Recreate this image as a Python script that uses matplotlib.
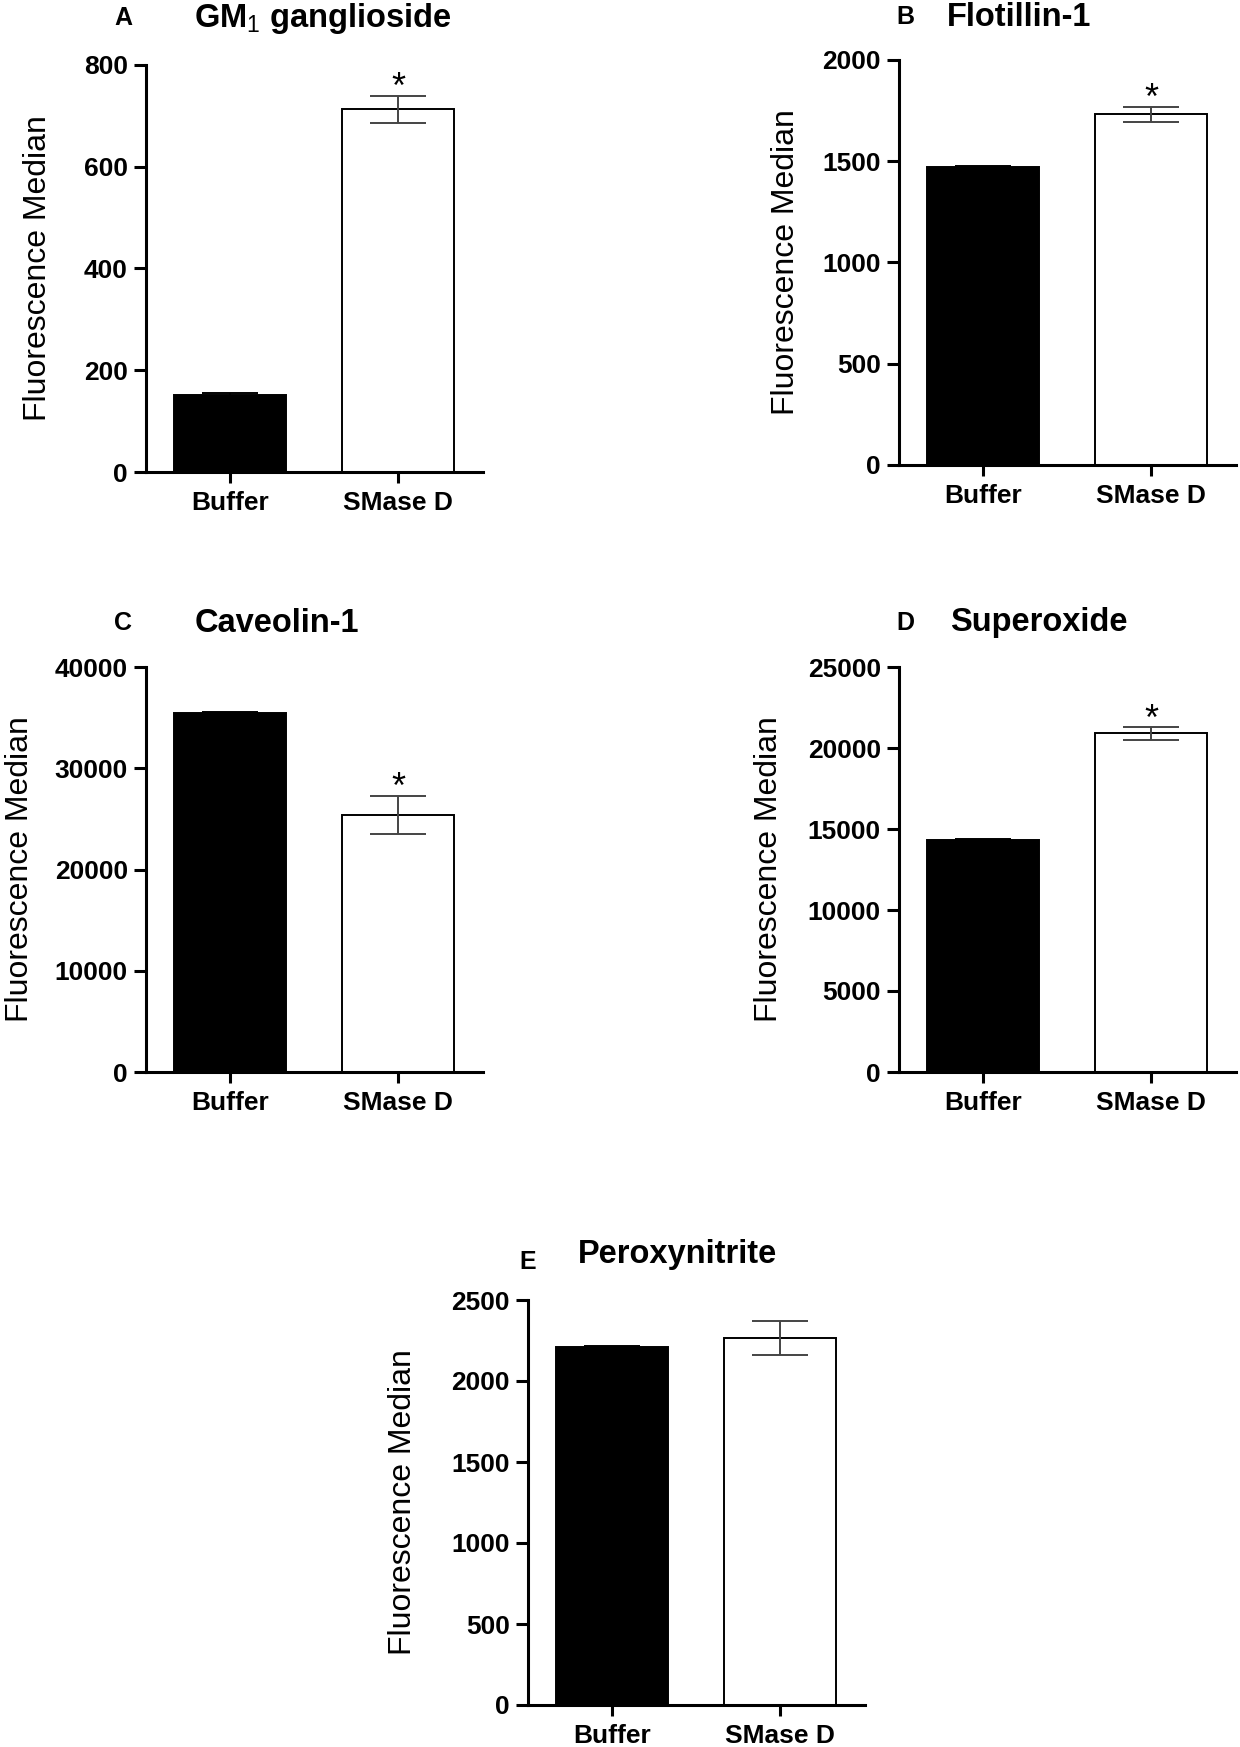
import matplotlib
matplotlib.use("Agg")
import matplotlib.pyplot as plt

plt.rcParams['font.family'] = ['Liberation Sans', 'DejaVu Sans']
plt.rcParams['mathtext.fontset'] = 'custom'
plt.rcParams['mathtext.rm'] = 'Liberation Sans'

# data
letters = ['A', 'B', 'C', 'D', 'E']
titles = ['GM$_{\\mathrm{1}}$ ganglioside', 'Flotillin-1', 'Caveolin-1', 'Superoxide', 'Peroxynitrite']
groups = ['Buffer', 'SMase D']
buffer_mean = [152, 1471, 35450, 14300, 2210]
buffer_err = [3, 5, 120, 60, 8]
smase_mean = [713, 1733, 25400, 20900, 2266]
smase_err = [27, 37, 1900, 380, 105]
significant = [True, True, True, True, False]
ymax = [800, 2000, 40000, 25000, 2500]
ystep = [200, 500, 10000, 5000, 500]

W, H = 1240, 1747
fig = plt.figure(figsize=(W / 100, H / 100), dpi=100)

# axes boxes in pixels: left, top, right, bottom
boxes = [(146, 65, 483, 472), (899, 60, 1236, 465),
         (146, 667, 483, 1072), (899, 667, 1236, 1072),
         (528, 1300, 865, 1705)]
label_x = [-0.32, -0.335, -0.375, -0.385, -0.37]
title_pos = [(323, 18), (1019, 17), (277, 623), (1039, 623), (677, 1255)]
letter_pos = [(123, 18), (905, 17), (123, 623), (905, 623), (528, 1262)]

for i in range(5):
    l, t, r, b = boxes[i]
    ax = fig.add_axes([l / W, 1 - b / H, (r - l) / W, (b - t) / H])
    ax.bar([0], [buffer_mean[i]], width=0.667, color='black', edgecolor='black', linewidth=1.4, zorder=2)
    ax.bar([1], [smase_mean[i]], width=0.667, color='white', edgecolor='black', linewidth=1.4, zorder=2)
    ax.errorbar([0], [buffer_mean[i]], yerr=[buffer_err[i]], fmt='none', ecolor='black',
                elinewidth=1.4, capsize=20, capthick=1.4, zorder=3)
    ax.errorbar([1], [smase_mean[i]], yerr=[smase_err[i]], fmt='none', ecolor='#444444',
                elinewidth=1.4, capsize=20, capthick=1.4, zorder=3)
    if significant[i]:
        ax.annotate('*', (1, smase_mean[i] + smase_err[i]), xytext=(0, -2), textcoords='offset points',
                    ha='center', va='baseline', fontsize=26)
    ax.set_xlim(-0.5, 1.506)
    ax.set_ylim(0, ymax[i])
    ax.set_yticks(range(0, ymax[i] + 1, ystep[i]))
    ax.set_xticks([0, 1])
    ax.set_xticklabels(groups)
    for s in ['top', 'right']:
        ax.spines[s].set_visible(False)
    for s in ['left', 'bottom']:
        ax.spines[s].set_linewidth(2.2)
    ax.tick_params(axis='y', length=9, width=2.2, pad=4, labelsize=19)
    ax.tick_params(axis='x', length=8, width=2.2, pad=6, labelsize=19)
    for lab in ax.get_xticklabels() + ax.get_yticklabels():
        lab.set_fontweight('bold')
    ax.set_ylabel('Fluorescence Median', fontsize=23)
    ax.yaxis.set_label_coords(label_x[i], 0.5)
    ax.yaxis.label.set_verticalalignment('center')

    fig.text(title_pos[i][0] / W, 1 - title_pos[i][1] / H, titles[i], fontsize=23.5,
             fontweight='bold', ha='center', va='center')
    fig.text(letter_pos[i][0] / W, 1 - letter_pos[i][1] / H, letters[i], fontsize=18,
             fontweight='bold', ha='center', va='center')

fig.savefig('out.png', dpi=100)
